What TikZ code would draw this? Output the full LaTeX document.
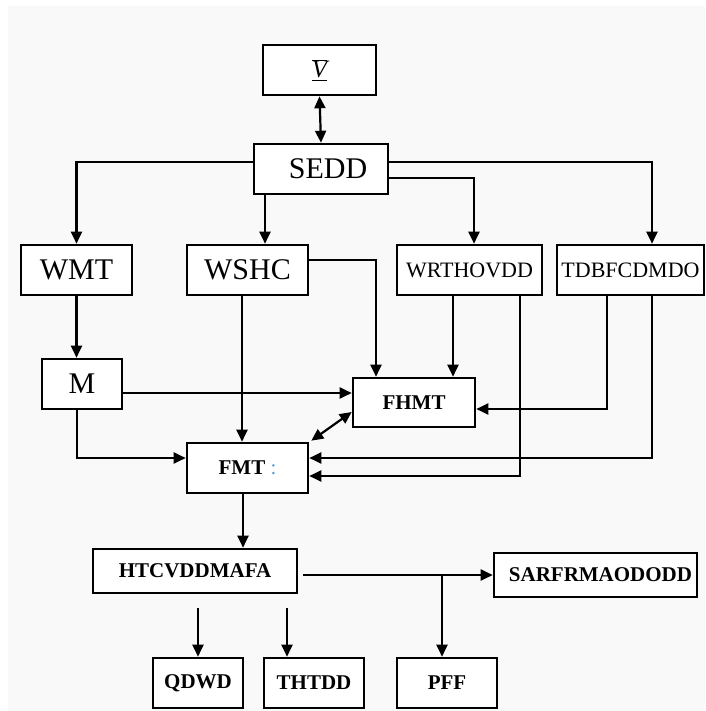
\documentclass[tikz,border=0pt]{standalone}
\usepackage{fontspec}
\setmainfont{Liberation Serif}
\usepackage{xcolor}
\usepackage{tikz}
\usetikzlibrary{arrows.meta, calc}
\definecolor{paper}{RGB}{249,249,249}
\definecolor{colonblue}{RGB}{ 91,155,213}

\begin{document}
\begin{tikzpicture}[
    x=1pt, y=-1pt,
    box/.style={rectangle, draw=black, line width=2.6pt, fill=white,
                inner sep=0pt, minimum height=50pt, minimum width=#1,
                font=\fontsize{22}{24}\selectfont},
    big/.style={font=\fontsize{30}{32}\selectfont},
    small/.style={font=\fontsize{21}{23}\selectfont\bfseries},
    arr/.style={line width=2.2pt, -{Triangle[length=12pt,width=11pt]}},
    dbl/.style={line width=2.2pt, {Triangle[length=12pt,width=11pt]}-{Triangle[length=12pt,width=11pt]}},
]
\useasboundingbox (0,0) rectangle (705,711);
\fill[white] (0,0) rectangle (705,711);
\fill[paper] (8,6) rectangle (705,711);

% top rows
\node[box=113pt, font=\fontsize{25}{27}\selectfont] (vbar) at (319.5,70)
  {$\underline{\overline{\mbox{\itshape V}}}$};
\node[box=134pt, big] (sedd) at (321,169) {\hspace{14pt}SEDD};
\node[box=111pt, big] (wmt)  at (76.5,270) {WMT};
\node[box=121pt, big] (wshc) at (247.5,270) {WSHC};
\node[box=145pt] (wrth) at (469.5,270) {WRTHOVDD};
\node[box=147pt] (tdbf) at (630.5,270) {TDBFCDMDO};

% middle
\node[box=80pt, big] (m) at (82,384) {M};
\node[box=122pt, small, minimum height=49pt] (fhmt) at (414,402.5) {FHMT};
\node[box=121pt, small] (fmt) at (247.5,468)
  {FMT \textcolor{colonblue}{\mdseries:}};

% bottom
\node[box=204pt, small, minimum height=44pt] (htc)  at (195,571) {HTCVDDMAFA};
\node[box=203pt, small, minimum height=44pt] (sarf) at (595.5,575) {\hspace{10pt}SARFRMAODODD};
\node[box=90pt,  small] (qdwd) at (198,683) {QDWD};
\node[box=100pt, small] (thtd) at (314,683) {THTDD};
\node[box=100pt, small] (pff)  at (447,683) {PFF};

% connectors from SEDD
\draw[dbl] (vbar.south) -- (sedd.north);
\draw[arr] ([yshift=7pt]sedd.west) -| (wmt.north);
\coordinate (s1) at ([xshift=-56pt]sedd.south);
\draw[arr] (s1) -- (s1 |- wshc.north);
\draw[arr] ([yshift=7pt]sedd.east) -| ([xshift=21.5pt]tdbf.north);
\draw[arr] ([yshift=-9pt]sedd.east) -| ([xshift=4.5pt]wrth.north);

% into FHMT and FMT
\draw[arr] (wmt.south) -- (wmt.south |- m.north);
\draw[arr] ([yshift=10pt]wshc.east) -| ([xshift=-38pt]fhmt.north);
\coordinate (w1) at ([xshift=-16.5pt]wrth.south);
\draw[arr] (w1) -- (w1 |- fhmt.north);
\draw[arr] ([xshift=50.5pt]wrth.south) |- ([yshift=-8pt]fmt.east);
\draw[arr] ([xshift=-23.5pt]tdbf.south) |- ([yshift=-6.5pt]fhmt.east);
\draw[arr] ([xshift=21.5pt]tdbf.south) |- ([yshift=10pt]fmt.east);
\coordinate (m1) at ([yshift=-9pt]m.east);
\draw[arr] (m1) -- (m1 -| fhmt.west);
\draw[arr] ([xshift=-5pt]m.south) |- ([yshift=10pt]fmt.west);
\coordinate (w2) at ([xshift=-5.5pt]wshc.south);
\draw[arr] (w2) -- (w2 |- fmt.north);
\draw[dbl] ([xshift=2pt,yshift=1pt]fmt.north east) -- ([yshift=-9.5pt]fhmt.west);

% lower part
\coordinate (f1) at ([xshift=-4.5pt]fmt.south);
\draw[arr] (f1) -- (f1 |- htc.north);
\coordinate (h1) at ($(htc.east |- sarf.west)+(5,0)$);
\draw[arr] (h1) -- (sarf.west);
\coordinate (p1) at ([xshift=-5pt]pff.north);
\draw[arr] (p1 |- sarf.west) -- (p1);
\path (htc.south) ++(0,14) coordinate (hb);
\draw[arr] (hb -| qdwd.north) -- (qdwd.north);
\coordinate (t1) at ([xshift=-27pt]thtd.north);
\draw[arr] (hb -| t1) -- (t1);
\end{tikzpicture}
\end{document}
